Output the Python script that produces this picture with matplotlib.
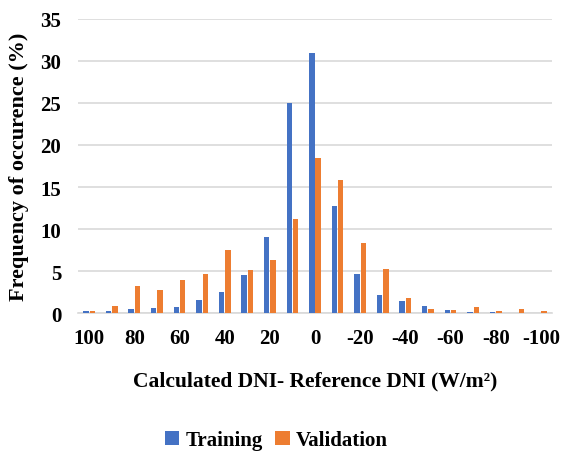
import matplotlib
matplotlib.use("Agg")
import matplotlib.pyplot as plt
import numpy as np

categories = [100, 90, 80, 70, 60, 50, 40, 30, 20, 10, 0, -10, -20, -30, -40, -50, -60, -70, -80, -90, -100]
training = [0.3, 0.3, 0.5, 0.6, 0.7, 1.6, 2.5, 4.5, 9.0, 25.0, 31.0, 12.7, 4.6, 2.1, 1.5, 0.8, 0.4, 0.1, 0.1, 0.0, 0.0]
validation = [0.3, 0.8, 3.25, 2.8, 4.0, 4.6, 7.5, 5.1, 6.3, 11.2, 18.5, 15.8, 8.4, 5.3, 1.8, 0.5, 0.4, 0.7, 0.3, 0.5, 0.2]
tick_labels = ["100", "80", "60", "40", "20", "0", "-20", "-40", "-60", "-80", "-100"]

plt.rcParams['font.family'] = ['Liberation Serif', 'DejaVu Serif']

fig = plt.figure(figsize=(5.64, 4.52), dpi=100)
ax = fig.add_axes([0.138, 0.305, 0.841, 0.651])

x = np.arange(len(categories))
w = 0.24
ax.bar(x - w / 2 - 0.02, training, width=w, color='#4472C4', label='Training', zorder=3)
ax.bar(x + w / 2 + 0.02, validation, width=w, color='#ED7D31', label='Validation', zorder=3)

ax.set_xlim(-0.5, len(categories) - 0.5)
ax.set_ylim(0, 35)
ax.set_yticks(np.arange(0, 36, 5))
ax.set_xticks(x[::2])
ax.set_xticklabels(tick_labels)
ax.grid(axis='y', color='#D9D9D9', linewidth=1.2, zorder=0)
for s in ['top', 'right', 'left']:
    ax.spines[s].set_visible(False)
ax.spines['bottom'].set_color('#D9D9D9')
ax.spines['bottom'].set_linewidth(1.2)
ax.tick_params(axis='both', length=0, labelsize=15)
ax.tick_params(axis='x', pad=11)
ax.tick_params(axis='y', pad=12)
for lab in ax.get_xticklabels() + ax.get_yticklabels():
    lab.set_fontweight('bold')

ax.set_xlabel('Calculated DNI- Reference DNI (W/m²)', fontsize=15.5, fontweight='bold', labelpad=16)
ax.set_ylabel('Frequency of occurence (%)', fontsize=16, fontweight='bold', labelpad=8)

fig.legend(loc='lower center', bbox_to_anchor=(0.49, -0.04), ncol=2, frameon=False,
           prop={'weight': 'bold', 'size': 15}, handlelength=0.7, handleheight=0.7,
           handletextpad=0.3, columnspacing=0.6)

fig.savefig('out.png', dpi=100)
